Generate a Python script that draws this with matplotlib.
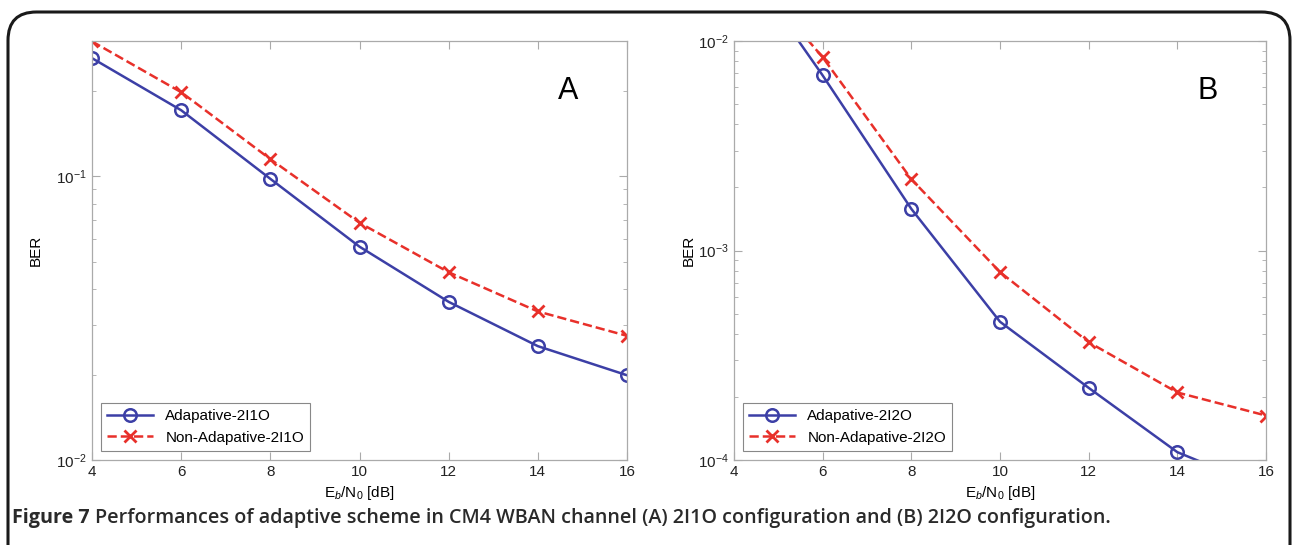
import matplotlib.pyplot as plt
from matplotlib.patches import FancyBboxPatch
from matplotlib.ticker import LogLocator, LogFormatterMathtext, NullFormatter

plt.rcParams['font.family'] = ['Liberation Sans', 'DejaVu Sans']
plt.rcParams['mathtext.fontset'] = 'custom'
plt.rcParams['mathtext.rm'] = 'Liberation Sans'
plt.rcParams['mathtext.it'] = 'Liberation Sans:italic'

# data
ebn0 = [4, 6, 8, 10, 12, 14, 16]

ber_a_adapt = [0.261, 0.171, 0.098, 0.0565, 0.0361, 0.0252, 0.0199]
ber_a_nonadapt = [0.299, 0.198, 0.115, 0.0686, 0.0459, 0.0334, 0.0274]

ber_b_adapt = [0.0276, 0.00685, 0.00158, 4.57e-4, 2.21e-4, 1.09e-4, 7.3e-5]
ber_b_nonadapt = [0.026, 0.00836, 0.00219, 7.89e-4, 3.65e-4, 2.10e-4, 1.63e-4]

labels_a = ['Adapative-2I1O', 'Non-Adapative-2I1O']
labels_b = ['Adapative-2I2O', 'Non-Adapative-2I2O']

blue = '#3c3fa6'
red = '#e8302a'

W, H = 1293, 545
fig = plt.figure(figsize=(W / 100, H / 100), dpi=100)

# rounded frame round the figure (bottom runs off the page)
frame = FancyBboxPatch((8 / W, -0.1), (W - 11) / W, (H - 12) / H + 0.1,
                       boxstyle='round,pad=0,rounding_size=0.022',
                       transform=fig.transFigure, fill=False,
                       edgecolor='#1a1a1a', linewidth=2.2, mutation_aspect=W / H)
fig.patches.append(frame)


def panel(rect, y1, y2, labels, ylim, letter, ypad):
    ax = fig.add_axes(rect)
    ax.semilogy(ebn0, y1, '-o', color=blue, lw=1.8, ms=9, mfc='none', mew=1.8,
                label=labels[0])
    ax.semilogy(ebn0, y2, '--x', color=red, lw=1.8, ms=8, mew=2,
                label=labels[1])
    ax.set_xlim(4, 16)
    ax.set_ylim(*ylim)
    ax.set_xticks(range(4, 17, 2))
    ax.yaxis.set_major_locator(LogLocator(base=10))
    ax.yaxis.set_major_formatter(LogFormatterMathtext())
    ax.yaxis.set_minor_locator(LogLocator(base=10, subs=range(2, 10)))
    ax.yaxis.set_minor_formatter(NullFormatter())
    ax.tick_params(which='both', direction='in', top=True, right=True,
                   color='#aaaaaa', labelsize=11, labelcolor='#222222')
    ax.tick_params(which='major', length=6)
    ax.tick_params(which='minor', length=3)
    for s in ax.spines.values():
        s.set_color('#aaaaaa')
        s.set_linewidth(0.9)
    ax.set_xlabel(r'E$_{\mathit{b}}$/N$_{\mathit{0}}$ [dB]', fontsize=11, labelpad=4)
    ax.set_ylabel('BER', fontsize=11, labelpad=ypad)
    ax.text(0.89, 0.88, letter, transform=ax.transAxes, fontsize=22,
            ha='center', va='center')
    leg = ax.legend(loc='lower left', fontsize=11, fancybox=False,
                    framealpha=1, edgecolor='#888888', handlelength=3.0,
                    borderaxespad=0.6)
    leg.get_frame().set_linewidth(0.8)
    return ax


panel([92 / W, 85 / H, 535 / W, 419 / H], ber_a_adapt, ber_a_nonadapt,
      labels_a, (0.01, 0.3), 'A', 10)
panel([734 / W, 85 / H, 532 / W, 419 / H], ber_b_adapt, ber_b_nonadapt,
      labels_b, (1e-4, 1e-2), 'B', 2)

t1 = fig.text(12 / W, 1 - 518 / H, 'Figure 7', fontsize=14.2, fontweight='bold',
              family='Open Sans', color='#2a2a2a', va='center')
fig.canvas.draw()
x_end = t1.get_window_extent().x1
fig.text((x_end + 5) / W, 1 - 518 / H,
         'Performances of adaptive scheme in CM4 WBAN channel (A) 2I1O configuration and (B) 2I2O configuration.',
         fontsize=14.2, fontweight='semibold', family='Open Sans', color='#2a2a2a',
         va='center')

fig.savefig('out.png', dpi=100)
